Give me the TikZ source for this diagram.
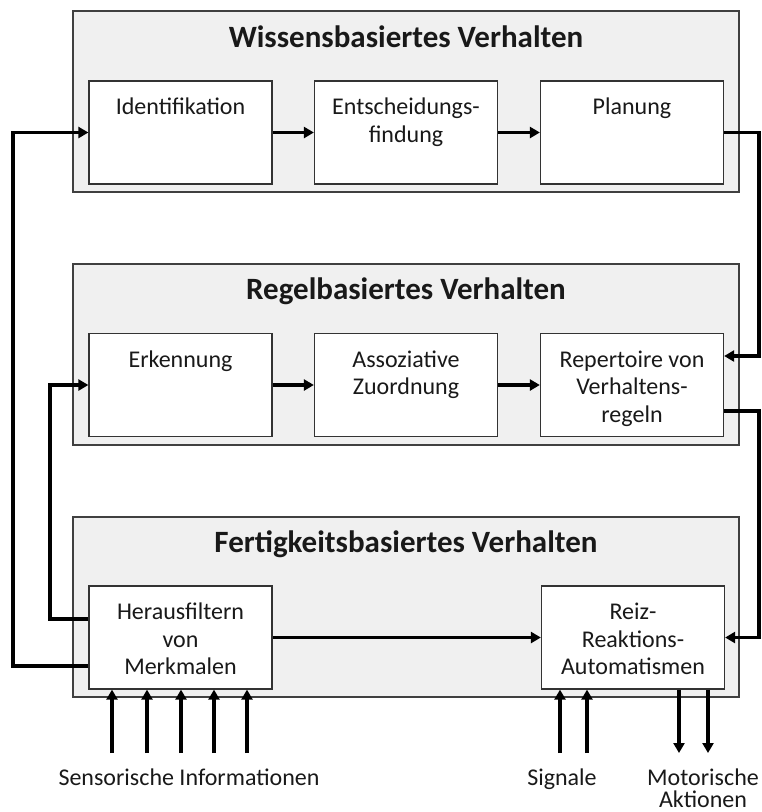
\documentclass[tikz,border=0pt]{standalone}
\usepackage{fontspec}
\setmainfont{Carlito}
\usetikzlibrary{arrows.meta}
\begin{document}
\begin{tikzpicture}[x=1pt,y=-1pt,
  outerbox/.style={draw=black!75, line width=1.3pt, fill=black!6, minimum width=666pt, minimum height=181pt, inner sep=0pt},
  innerbox/.style={draw=black!80, line width=1.3pt, fill=white, minimum width=183pt, minimum height=103pt, inner sep=0pt},
  lbl/.style={font=\fontsize{24}{27.5}\selectfont, align=center, inner sep=0pt, anchor=north, text=black!90},
  ttl/.style={font=\bfseries\fontsize{31}{36}\selectfont, inner sep=0pt, anchor=base, text=black!90},
  io/.style={font=\fontsize{24}{27}\selectfont, inner sep=0pt, anchor=base, text=black!90},
  conn/.style={line width=3.5pt, -{Triangle[length=10pt,width=11pt]}}]
\useasboundingbox (0,0) rectangle (762,812);

% outer boxes
\node[outerbox] (wb) at (406,101.5) {};
\node[outerbox] (rb) at (406,354.5) {};
\node[outerbox, minimum height=180pt] (fb) at (406,607) {};

\node[ttl] (wbt) at ([yshift=-37pt] wb.north) {Wissensbasiertes Verhalten};
\node[ttl] (rbt) at ([yshift=-36pt] rb.north) {Regelbasiertes Verhalten};
\node[ttl] (fbt) at ([yshift=-36pt] fb.north) {Fertigkeitsbasiertes Verhalten};

% inner boxes
\node[innerbox] (ident) at (180.5,132.5) {};
\node[innerbox] (ents)  at (406,132.5) {};
\node[innerbox] (plan)  at (632,132.5) {};
\node[innerbox] (erk)   at (180.5,385) {};
\node[innerbox] (ass)   at (406,385) {};
\node[innerbox] (rep)   at (632,385) {};
\node[innerbox] (filt)  at (180.5,637.5) {};
\node[innerbox] (reiz)  at (633,637.5) {};

\node[lbl] (identt) at ([yshift=-15pt] ident.north) {\strut Identifikation};
\node[lbl] (entst)  at ([yshift=-15pt] ents.north)  {\strut Entscheidungs-\\findung};
\node[lbl] (plant)  at ([yshift=-15pt] plan.north)  {\strut Planung};
\node[lbl] (erkt)   at ([yshift=-15pt] erk.north)   {\strut Erkennung};
\node[lbl] (asst)   at ([yshift=-15pt] ass.north)   {\strut Assoziative\\Zuordnung};
\node[lbl] (rept)   at ([yshift=-15pt] rep.north)   {\strut Repertoire von\\Verhaltens-\\regeln};
\node[lbl] (filtt)  at ([yshift=-15pt] filt.north)  {\strut Herausfiltern\\von\\Merkmalen};
\node[lbl] (reizt)  at ([yshift=-15pt] reiz.north)  {\strut Reiz-\\Reaktions-\\Automatismen};

% horizontal connectors
\draw[conn] (ident) -- (ents);
\draw[conn] (ents) -- (plan);
\draw[conn] (erk) -- (ass);
\draw[conn] (ass) -- (rep);
\draw[conn] (filt) -- (reiz);

% right side loops
\coordinate (r1) at (759,356);
\draw[conn] (plan.east) -| (r1) -- (r1 -| rep.east);
\coordinate (r2) at (759,411);
\draw[conn] (r2 -| rep.east) -- (r2) |- (reiz.east);

% left side loops
\coordinate (l1) at (50,619);
\draw[conn] (l1 -| filt.west) -- (l1) |- (erk.west);
\coordinate (l2) at (13,666);
\draw[conn] (l2 -| filt.west) -- (l2) |- (ident.west);

% sensory inputs
\foreach \x [count=\i] in {112,147,181,214,247} {
  \coordinate (s\i) at (\x,753);
  \draw[conn] (s\i) -- (s\i |- filt.south);
}
\foreach \x [count=\i] in {560,587} {
  \coordinate (g\i) at (\x,753);
  \draw[conn] (g\i) -- (g\i |- reiz.south);
}
\foreach \x [count=\i] in {679,708} {
  \coordinate (m\i) at (\x,753);
  \draw[conn] (m\i |- reiz.south) -- (m\i);
}

\node[io] (sens) at (189,785) {Sensorische Informationen};
\node[io] (sig) at (562,785) {Signale};
\node[io] (mot) at (703,785) {Motorische};
\node[io] (akt) at (703,807) {Aktionen};
\end{tikzpicture}
\end{document}
